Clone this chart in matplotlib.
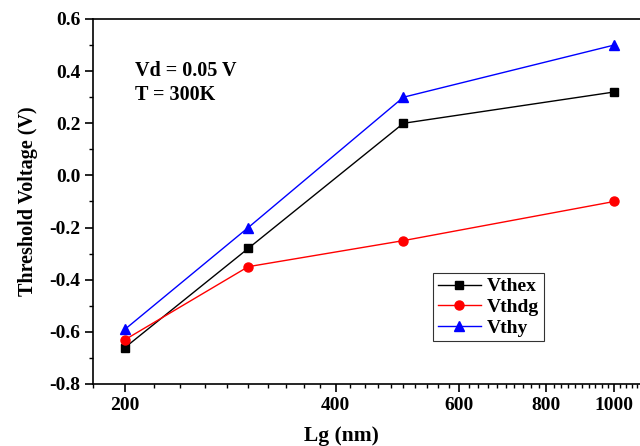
import numpy as np
import matplotlib
matplotlib.use("Agg")
import matplotlib.pyplot as plt
from matplotlib.ticker import FixedLocator, MultipleLocator, NullFormatter

plt.rcParams['font.family'] = ['Liberation Serif', 'DejaVu Serif']
plt.rcParams['font.weight'] = 'bold'

# data
lg = [200, 300, 500, 1000]
vthex = [-0.66, -0.28, 0.20, 0.32]
vthdg = [-0.63, -0.35, -0.25, -0.10]
vthy = [-0.59, -0.20, 0.30, 0.50]
xticks = [200, 400, 600, 800, 1000]

fig = plt.figure(figsize=(6.4, 4.46), dpi=100)
ax = fig.add_axes([93/640, 1-384/446, 1-93/640, (384-19)/446])

ax.plot(lg, vthex, color='black', marker='s', ms=6, lw=1, label='Vthex')
ax.plot(lg, vthdg, color='red', marker='o', ms=6.5, lw=1, label='Vthdg')
ax.plot(lg, vthy, color='blue', marker='^', ms=7, lw=1, label='Vthy')

ax.set_xscale('log')
ax.set_xlim(180, 1089)
ax.set_ylim(-0.8, 0.6)
ax.xaxis.set_major_locator(FixedLocator(xticks))
ax.xaxis.set_major_formatter(plt.FixedFormatter([str(t) for t in xticks]))
ax.xaxis.set_minor_locator(FixedLocator(np.arange(180, 1100, 20)))
ax.xaxis.set_minor_formatter(NullFormatter())
ax.yaxis.set_major_locator(MultipleLocator(0.2))
ax.yaxis.set_minor_locator(MultipleLocator(0.1))
ax.yaxis.set_major_formatter(plt.FuncFormatter(lambda v, p: f"{v:.1f}"))

ax.tick_params(which='major', direction='out', length=6, width=1.2, labelsize=14, pad=3)
ax.tick_params(which='minor', direction='out', length=3, width=1)
for s in ax.spines.values():
    s.set_linewidth(1.2)
ax.spines['right'].set_visible(False)

ax.set_xlabel('Lg (nm)', fontsize=15.5, fontweight='bold', labelpad=6)
ax.xaxis.set_label_coords((341-93)/547, -0.115)
ax.set_ylabel('Threshold Voltage (V)', fontsize=14.5, fontweight='bold', labelpad=8)

ax.text((135-93)/547, (384-83)/365, 'Vd = 0.05 V\nT = 300K', transform=ax.transAxes,
        fontsize=14.5, fontweight='bold', va='center', linespacing=1.25)

leg = ax.legend(loc='upper left', bbox_to_anchor=((433-93)/547, (384-273)/365),
                fontsize=14, frameon=True, fancybox=False, handlelength=2.2,
                borderpad=0.25, labelspacing=0.15, handletextpad=0.3, borderaxespad=0)
leg.get_frame().set_edgecolor('black')
leg.get_frame().set_linewidth(0.8)
for t in leg.get_texts():
    t.set_fontweight('bold')

fig.savefig('out.png', dpi=100)
